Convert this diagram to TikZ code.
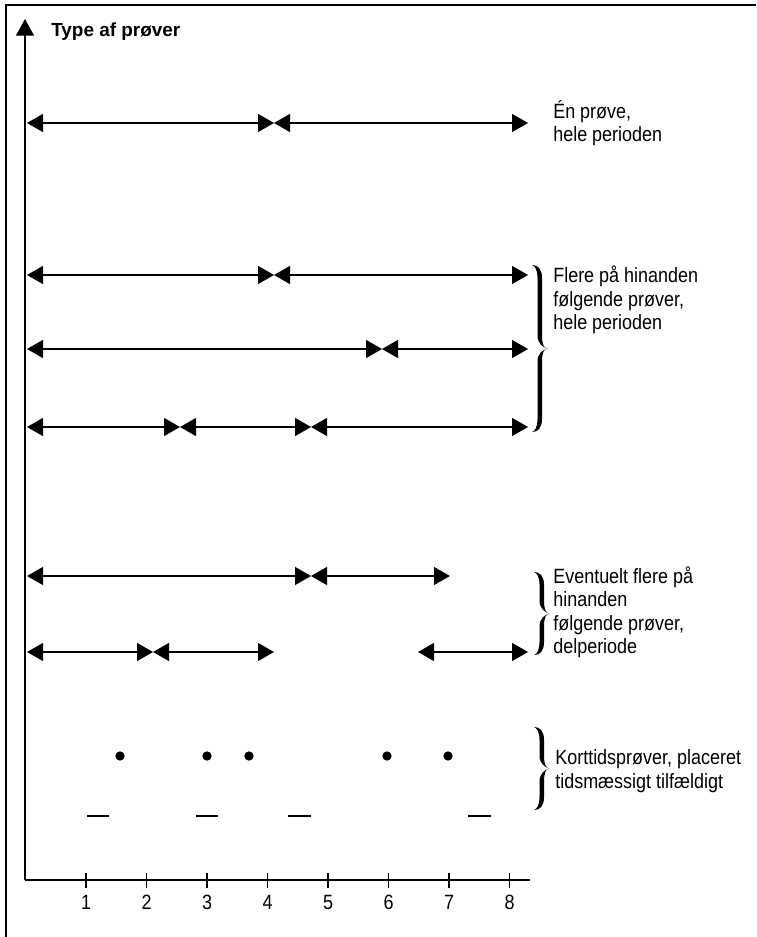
\documentclass[tikz,border=0pt]{standalone}
\usepackage{fontspec}
\setmainfont{Liberation Sans}
\newfontfamily\narrowsans[FakeStretch=0.87]{Liberation Sans}
\usetikzlibrary{arrows.meta}

\tikzset{
  interval/.style={{Triangle[length=12pt,width=13.5pt]}-{Triangle[length=12pt,width=13.5pt]},line width=1pt},
  lbl/.style={anchor=west,align=left,inner sep=0pt,font=\narrowsans\fontsize{15.5pt}{17.6pt}\selectfont},
  ticklbl/.style={inner sep=0pt,font=\narrowsans\fontsize{15.5pt}{17.6pt}\selectfont},
  dot/.style={circle,fill,inner sep=0pt,minimum size=7pt},
  % curly brace, cusp pointing right; the value is the half height
  curly/.pic={
    \fill (0,-#1) .. controls (6,-#1) and (10,{-#1+4}) .. (10,{-#1+13}) -- (10,-13)
      .. controls (10,-4) and (12,0) .. (15.5,0)
      .. controls (11,-1) and (5.5,-5) .. (5.5,-13) -- (5.5,{-#1+13})
      .. controls (5.5,{-#1+5}) and (3,{-#1+1}) .. (0,-#1) -- cycle;
    \fill (0,#1) .. controls (6,#1) and (10,{#1-4}) .. (10,{#1-13}) -- (10,13)
      .. controls (10,4) and (12,0) .. (15.5,0)
      .. controls (11,1) and (5.5,5) .. (5.5,13) -- (5.5,{#1-13})
      .. controls (5.5,{#1-5}) and (3,{#1-1}) .. (0,#1) -- cycle;
  }
}

\begin{document}
\begin{tikzpicture}[x=0.75pt,y=-0.75pt]
\useasboundingbox (0,0) rectangle (756,937);
% frame
\path[draw,line width=1.5pt](5.5,937)--(5.5,5.5)--(756,5.5);

% axes
\coordinate(o) at (25,880);
\coordinate(ytop) at (25,19);
\coordinate(xend) at (530,880);
\path[draw,line width=1pt,-{Triangle[length=12.5pt,width=13.5pt]}](o)--(ytop);
\path[draw,line width=1pt](o)--(xend);
\node[anchor=base west,inner sep=0pt,font=\bfseries\fontsize{14.2pt}{17pt}\selectfont](title) at (51,37){Type af prøver};

% ticks
\node[ticklbl](t1) at (86,902){1};
\node[ticklbl](t2) at (146.5,902){2};
\node[ticklbl](t3) at (207,902){3};
\node[ticklbl](t4) at (267.5,902){4};
\node[ticklbl](t5) at (328,902){5};
\node[ticklbl](t6) at (388.5,902){6};
\node[ticklbl](t7) at (449,902){7};
\node[ticklbl](t8) at (509.5,902){8};
\path[draw,line width=1pt](86,873)--(86,888);
\path[draw,line width=1pt](146.5,873)--(146.5,888);
\path[draw,line width=1pt](207,873)--(207,888);
\path[draw,line width=1pt](267.5,873)--(267.5,888);
\path[draw,line width=1pt](328,873)--(328,888);
\path[draw,line width=1pt](388.5,873)--(388.5,888);
\path[draw,line width=1pt](449,873)--(449,888);
\path[draw,line width=1pt](509.5,873)--(509.5,888);

% one test, whole period
\coordinate(r1a) at (27,123);
\coordinate(r1b) at (274,123);
\coordinate(r1c) at (528,123);
\path[draw,interval](r1a)--(r1b);
\path[draw,interval](r1b)--(r1c);
\node[lbl](l1) at (553,123){Én prøve,\\hele perioden};

% consecutive tests, whole period
\coordinate(r2a) at (27,275);
\coordinate(r2b) at (274,275);
\coordinate(r2c) at (528,275);
\path[draw,interval](r2a)--(r2b);
\path[draw,interval](r2b)--(r2c);
\coordinate(r3a) at (27,349);
\coordinate(r3b) at (382,349);
\coordinate(r3c) at (528,349);
\path[draw,interval](r3a)--(r3b);
\path[draw,interval](r3b)--(r3c);
\coordinate(r4a) at (27,427);
\coordinate(r4b) at (180,427);
\coordinate(r4c) at (311,427);
\coordinate(r4d) at (528,427);
\path[draw,interval](r4a)--(r4b);
\path[draw,interval](r4b)--(r4c);
\path[draw,interval](r4c)--(r4d);
\pic at (532,348.5){curly=83.5};
\node[lbl](l2) at (553,300){Flere på hinanden\\følgende prøver,\\hele perioden};

% consecutive tests, part of the period
\coordinate(r5a) at (27,576);
\coordinate(r5b) at (311,576);
\coordinate(r5c) at (450,576);
\path[draw,interval](r5a)--(r5b);
\path[draw,interval](r5b)--(r5c);
\coordinate(r6a) at (27,652);
\coordinate(r6b) at (153,652);
\coordinate(r6c) at (274,652);
\coordinate(r6d) at (418,652);
\coordinate(r6e) at (528,652);
\path[draw,interval](r6a)--(r6b);
\path[draw,interval](r6b)--(r6c);
\path[draw,interval](r6d)--(r6e);
\pic at (534,613.5){curly=41.5};
\node[lbl](l3) at (553,612.5){Eventuelt flere på\\hinanden\\følgende prøver,\\delperiode};

% short tests
\node[dot](d1) at (120,756){};
\node[dot](d2) at (207,756){};
\node[dot](d3) at (249,756){};
\node[dot](d4) at (387,756){};
\node[dot](d5) at (448,756){};
\path[draw,line width=1.2pt](87,816)--(109,816);
\path[draw,line width=1.2pt](196,816)--(218,816);
\path[draw,line width=1.2pt](288,816)--(311,816);
\path[draw,line width=1.2pt](468,816)--(491,816);
\pic at (534,768.5){curly=41.5};
\node[lbl](l4) at (555,771){Korttidsprøver, placeret\\tidsmæssigt tilfældigt};
\end{tikzpicture}
\end{document}
